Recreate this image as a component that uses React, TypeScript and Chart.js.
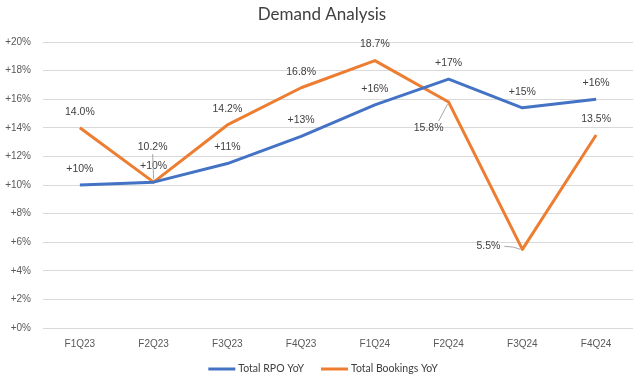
import React, { useEffect, useRef } from "react";
import { Chart, registerables } from "chart.js";

Chart.register(...registerables);

const categories = ["F1Q23", "F2Q23", "F3Q23", "F4Q23", "F1Q24", "F2Q24", "F3Q24", "F4Q24"];
const rpoYoY = [10.0, 10.2, 11.5, 13.4, 15.6, 17.4, 15.4, 16.0];
const rpoLabels = ["+10%", "+10%", "+11%", "+13%", "+16%", "+17%", "+15%", "+16%"];
const bookingsYoY = [14.0, 10.2, 14.2, 16.8, 18.7, 15.8, 5.5, 13.5];
const bookingsLabels = ["14.0%", "10.2%", "14.2%", "16.8%", "18.7%", "15.8%", "5.5%", "13.5%"];
const seriesNames = ["Total RPO YoY", "Total Bookings YoY"];
const chartTitle = "Demand Analysis";

// label placement (dx, dy from point, and whether a leader line is drawn)
const labelPlacement: Record<string, { dx: number; dy: number; leader?: boolean }> = {
  "1-1": { dx: -1, dy: -35, leader: true },
  "1-5": { dx: -20, dy: 26, leader: true },
  "1-6": { dx: -34, dy: -3, leader: true },
};

const labelPlugin = {
  id: "valueLabels",
  afterDatasetsDraw(chart: any) {
    const ctx = chart.ctx;
    const allLabels = [rpoLabels, bookingsLabels];
    ctx.save();
    ctx.font = "10.5px 'Liberation Sans', Arial, sans-serif";
    ctx.fillStyle = "#404040";
    ctx.textAlign = "center";
    ctx.textBaseline = "middle";
    chart.data.datasets.forEach((_: any, di: number) => {
      const meta = chart.getDatasetMeta(di);
      meta.data.forEach((pt: any, i: number) => {
        const p = labelPlacement[`${di}-${i}`] || { dx: 0, dy: -16 };
        const lx = pt.x + p.dx;
        const ly = pt.y + p.dy;
        if (p.leader) {
          ctx.strokeStyle = "#a6a6a6";
          ctx.lineWidth = 1;
          ctx.beginPath();
          if (p.dy < -20) {
            ctx.moveTo(lx, ly + 7);
            ctx.lineTo(pt.x, pt.y - 3);
          } else if (p.dy > 20) {
            ctx.moveTo(lx + 10, ly - 7);
            ctx.lineTo(pt.x - 1, pt.y + 2);
          } else {
            ctx.moveTo(lx + 16, ly);
            ctx.quadraticCurveTo(pt.x - 8, ly, pt.x - 2, pt.y);
          }
          ctx.stroke();
        }
        ctx.fillText(allLabels[di][i], lx, ly);
      });
    });
    ctx.restore();
  },
};

// Title and legend drawn to match the Excel-like layout
const titleLegendPlugin = {
  id: "titleLegend",
  afterDraw(chart: any) {
    const ctx = chart.ctx;
    ctx.save();
    ctx.fillStyle = "#404040";
    ctx.font = "17px Lato, sans-serif";
    ctx.textAlign = "center";
    ctx.textBaseline = "alphabetic";
    ctx.fillText(chartTitle, 322, 20);

    ctx.font = "10.5px Lato, sans-serif";
    ctx.textAlign = "left";
    ctx.textBaseline = "middle";
    const sample = 27;
    const gap = 3;
    const itemGap = 17;
    const items = chart.data.datasets.map((ds: any) => ({
      label: ds.label,
      color: ds.borderColor,
      w: ctx.measureText(ds.label).width,
    }));
    const total = items.reduce((s: number, it: any) => s + sample + gap + it.w, 0) + itemGap * (items.length - 1);
    let x = 323 - total / 2;
    const y = 369;
    items.forEach((it: any) => {
      ctx.fillStyle = it.color;
      ctx.fillRect(x, y - 1.5, sample, 3);
      ctx.fillStyle = "#404040";
      ctx.fillText(it.label, x + sample + gap, y);
      x += sample + gap + it.w + itemGap;
    });
    ctx.restore();
  },
};

export default function App() {
  const ref = useRef<HTMLCanvasElement | null>(null);
  useEffect(() => {
    if (!ref.current) return;
    const chart = new Chart(ref.current, {
      type: "line",
      data: {
        labels: categories,
        datasets: [
          {
            label: seriesNames[0],
            data: rpoYoY,
            borderColor: "#4472C4",
            backgroundColor: "#4472C4",
            borderWidth: 3,
            pointRadius: 0,
            tension: 0,
            borderJoinStyle: "round",
          },
          {
            label: seriesNames[1],
            data: bookingsYoY,
            borderColor: "#ED7D31",
            backgroundColor: "#ED7D31",
            borderWidth: 3,
            pointRadius: 0,
            tension: 0,
            borderJoinStyle: "round",
          },
        ],
      },
      options: {
        animation: false,
        responsive: false,
        layout: { padding: { left: 0, right: 7, top: 42, bottom: 31 } },
        plugins: {
          title: { display: false },
          legend: { display: false },
          tooltip: { enabled: false },
        },
        scales: {
          x: {
            offset: true,
            grid: { display: false, drawTicks: false },
            border: { display: false },
            afterFit(scale: any) {
              scale.height = 22;
            },
            ticks: {
              color: "#595959",
              padding: 10,
              font: { family: "'Liberation Sans', Arial, sans-serif", size: 10 },
            },
          },
          y: {
            min: 0,
            max: 20,
            afterFit(scale: any) {
              scale.width = 43;
            },
            grid: { color: "#d9d9d9", drawTicks: false },
            border: { display: false },
            ticks: {
              stepSize: 2,
              padding: 12,
              color: "#595959",
              font: { family: "'Liberation Sans', Arial, sans-serif", size: 10 },
              callback: (v: any) => `+${v}%`,
            },
          },
        },
      },
      plugins: [labelPlugin, titleLegendPlugin],
    });
    return () => chart.destroy();
  }, []);
  return (
    <div style={{ position: "fixed", left: 0, top: 0, width: 640, height: 381, background: "#ffffff" }}>
      <canvas ref={ref} width={640} height={381} />
    </div>
  );
}
